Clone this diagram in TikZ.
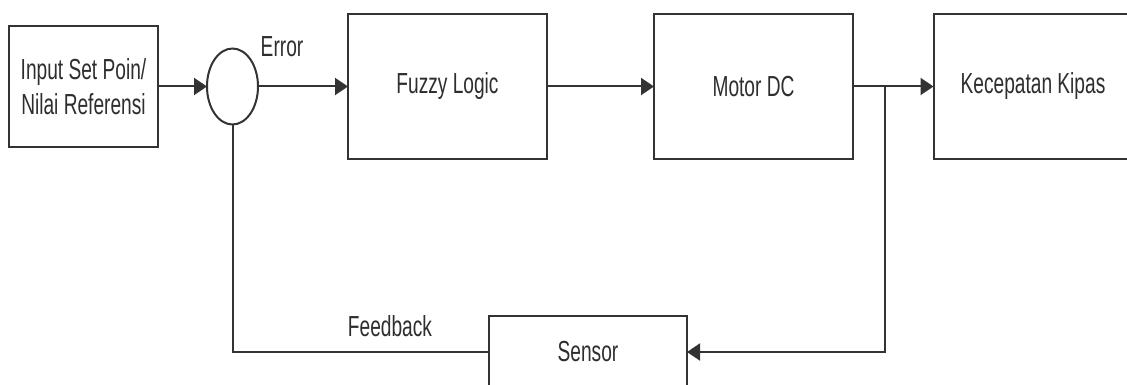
\documentclass[tikz,border=0pt]{standalone}
\usepackage{fontspec}
\setmainfont{Liberation Sans}[FakeStretch=0.66]
\usetikzlibrary{arrows.meta,shapes.geometric}
\definecolor{lc}{HTML}{333333}
\definecolor{tc}{HTML}{2E2E2E}
\tikzset{
  blk/.style={draw=lc, line width=2pt, rectangle, inner sep=0pt, outer sep=0pt,
    align=center, text=tc, font=\fontsize{29}{35}\selectfont},
  sumpt/.style={draw=lc, line width=2pt, ellipse, inner sep=0pt, outer sep=0pt,
    minimum width=51pt, minimum height=76pt},
  conn/.style={draw=lc, line width=2pt},
  arr/.style={conn, -{Triangle[length=13pt,width=17pt]}},
  lbl/.style={text=tc, inner sep=0pt, font=\fontsize{29}{35}\selectfont}
}
\begin{document}
\begin{tikzpicture}[x=1pt,y=-1pt]
\useasboundingbox (0,0) rectangle (1127,385);
\node[blk, minimum width=149pt, minimum height=121pt] (inp) at (83.5,86.5) {Input Set Poin/\\Nilai Referensi};
\node[sumpt] (sum) at (232.5,86.5) {};
\node[blk, minimum width=199pt, minimum height=145pt] (fuzzy) at (447.5,86.5) {Fuzzy Logic};
\node[blk, minimum width=199pt, minimum height=145pt] (motor) at (753.5,86.5) {Motor DC};
\node[blk, minimum width=199pt, minimum height=145pt] (kipas) at (1033,86.5) {Kecepatan Kipas};
\node[blk, minimum width=198pt, minimum height=72pt] (sensor) at (588,352) {Sensor};
\node[lbl] (err) at (282,47) {Error};
\node[lbl] (fb) at (390,326) {Feedback};
\coordinate (br) at (885,86.5);
\coordinate (brd) at (885,352);
\coordinate (fbl) at (232.5,352);
\draw[arr] (inp.east) -- (sum.west);
\draw[arr] (sum.east) -- (fuzzy.west);
\draw[arr] (fuzzy.east) -- (motor.west);
\draw[arr] (motor.east) -- (kipas.west);
\draw[arr] (br) -- (brd) -- (sensor.east);
\draw[conn] (sensor.west) -- (fbl) -- (sum.south);
\end{tikzpicture}
\end{document}
